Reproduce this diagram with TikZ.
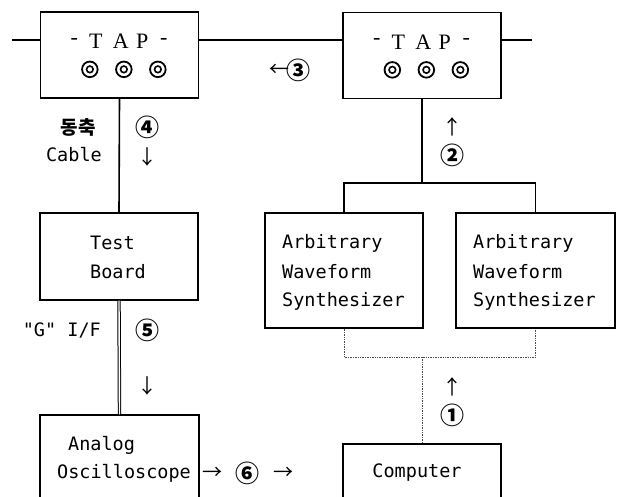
\documentclass[tikz,border=0pt]{standalone}
\usepackage{fontspec}
\setmonofont{DejaVu Sans Mono}
\newfontfamily\symf{Noto Sans CJK KR}
\newfontfamily\krf{Noto Sans CJK KR}
\newfontfamily\tapf{Liberation Serif}
\usetikzlibrary{calc}
\begin{document}
\begin{tikzpicture}[x=1pt,y=-1pt,
  box/.style={draw,line width=1.3pt,inner sep=0pt},
  wire/.style={line width=1.6pt},
  dots/.style={densely dotted,line width=0.7pt,black!70},
  lbl/.style={inner sep=0pt,font=\ttfamily\fontsize{18.5}{20}\selectfont},
  sym/.style={inner sep=0pt,font=\symf\fontsize{20}{22}\selectfont},
  num/.style={inner sep=0pt,font=\symf\bfseries\fontsize{24}{26}\selectfont},
  tapl/.style={inner sep=0pt,font=\tapf\fontsize{22}{24}\selectfont}]
\useasboundingbox (0,0) rectangle (621,496);
% boxes
\node[box,minimum width=158pt,minimum height=86pt] (tap1) at (119.5,55) {};
\node[box,minimum width=158pt,minimum height=86pt] (tap2) at (422,55.5) {};
\node[box,minimum width=158pt,minimum height=87pt] (test) at (119,256.5) {};
\node[box,minimum width=158pt,minimum height=115pt] (aws1) at (344,270.5) {};
\node[box,minimum width=159pt,minimum height=115pt] (aws2) at (535.5,270.5) {};
\node[box,minimum width=159pt,minimum height=125pt] (osc) at (119.5,477.5) {};
\node[box,minimum width=158pt,minimum height=116pt] (comp) at (422,502) {};
% TAP labels and sockets
\foreach \t in {tap1,tap2}{
  \foreach \c/\dx in {-/34.5,T/56,A/81,P/102.5,-/124}
    \node[tapl] (\t-\dx) at ($(\t.north west)+(\dx,30)$) {\c};
  \foreach \dx in {50,84,118}{
    \draw[line width=1.8pt] ($(\t.north west)+(\dx,58)$) circle (7.8pt);
    \draw[line width=1.6pt] ($(\t.north west)+(\dx,58)$) circle (3.3pt);
  }
}
% bus line
\coordinate (l1) at (12,40);
\coordinate (r1) at (532,40);
\draw[wire] (l1) -- (l1 -| tap1.west);
\draw[wire] (tap1.east |- l1) -- (tap2.west |- l1);
\draw[wire] (tap2.east |- l1) -- (r1);
% coax cable
\draw[wire] (tap1.south) -- (test.north);
% G I/F double line
\draw[double,double distance=1.4pt,line width=1pt] (test.south) -- (osc.north);
% tap2 to synthesizers
\coordinate (sp) at (422,183);
\draw[wire] (tap2.south) -- (sp);
\draw[wire] (aws1.north) |- (sp) -| (aws2.north);
% computer to synthesizers (dotted)
\coordinate (dj) at (422,357);
\draw[dots] (aws1.south) |- (dj) -| (aws2.south);
\draw[dots] (dj) -- (comp.north);
% texts
\node[lbl,anchor=west] (t1) at (90,243) {Test};
\node[lbl,anchor=west] (t2) at (90,272) {Board};
\foreach \b/\xx in {aws1/282,aws2/473}{
  \node[lbl,anchor=west] (\b-a) at (\xx,243) {Arbitrary};
  \node[lbl,anchor=west] (\b-b) at (\xx,272) {Waveform};
  \node[lbl,anchor=west] (\b-c) at (\xx,301) {Synthesizer};
}
\node[lbl,anchor=west] (an) at (68,445) {Analog};
\node[lbl,anchor=west] (os) at (57,473) {Oscilloscope};
\node[lbl] (cp) at (417,473) {Computer};
\node[inner sep=0pt,font=\krf\bfseries\fontsize{19}{20}\selectfont,anchor=east] (kr) at (96,127) {동축};
\node[lbl,anchor=east] (cb) at (102,155) {Cable};
\node[lbl,anchor=east] (gif) at (101,330) {"G" I/F};
% numbered arrows
\node[num] (n4) at (147,127) {④};
\node[sym] (a4) at (147,157) {↓};
\node[sym] (a2) at (452,127) {↑};
\node[num] (n2) at (452,155) {②};
\node[sym,anchor=east] (a3) at (290,70) {←};
\node[num] (n3) at (298,70) {③};
\node[num] (n5) at (147,330) {⑤};
\node[sym] (a5) at (147,386) {↓};
\node[sym] (a1) at (452,387) {↑};
\node[num] (n1) at (452,415) {①};
\node[sym] (a6a) at (212,473) {→};
\node[num] (n6) at (247,473) {⑥};
\node[sym] (a6b) at (283,473) {→};
\end{tikzpicture}
\end{document}
